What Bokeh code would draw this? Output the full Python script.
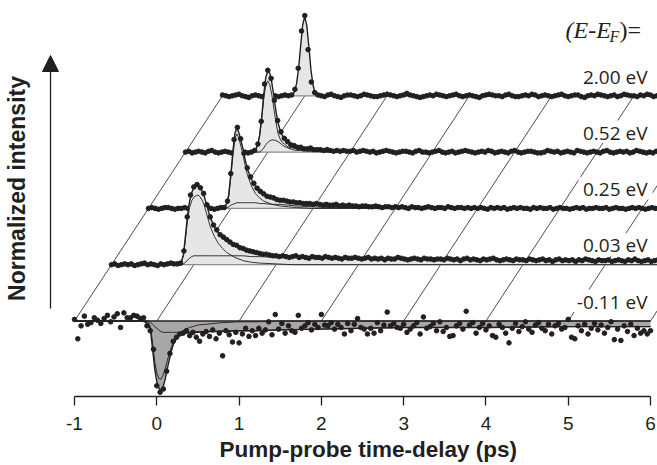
import math
from bokeh.plotting import figure
from bokeh.models import Range1d, FixedTicker, Label, Arrow, NormalHead, Title, GlobalInlineStyleSheet
from bokeh.embed import file_html
from bokeh.resources import INLINE

# ---------------- data ----------------
ENERGY_LABELS = ["-0.11 eV", "0.03 eV", "0.25 eV", "0.52 eV", "2.00 eV"]
TICKS = [-1, 0, 1, 2, 3, 4, 5, 6]
TICK_LABELS = ["-1", "0", "1", "2", "3", "4", "5", "6"]
X_TITLE = "Pump-probe time-delay (ps)"
Y_TITLE = "Normalized intensity"

# measured delays: start and step of the delay stage (ps)
DELAY_START = -1.0
DELAY_STEP = 0.04

# measured points, normalized intensity x 100
DOTS_M011 = [2, -22, -6, 6, -4, -2, 4, 1, -3, 3, 7, -1, 5, 9, -8, 10, 4, 4, 7, 6, 3, 4, -6, -12, -35,
             -80, -88, -84, -62, -40, -25, -20, -16, -15, -12, -18, -14, -20, -25, -16, -13, -19, -11, -22, -15, -43, -12, -17, -26, -14,
             -27, -16, -9, -19, -12, -18, -9, -15, -11, -1, -17, 8, -10, -3, -15, -6, -12, -14, 7, -9, -6, -2, -11, -4, -8,
             8, -5, -6, -2, -10, -4, -8, -16, -3, -12, -4, 3, -8, -10, -16, -9, -15, -2, -12, -5, 11, -6, -3, -8, -9,
             -4, -14, -10, -6, -2, -16, 5, -9, -7, -3, -12, -1, -13, -8, -19, -18, -6, -3, -10, 12, -5, -2, -15, -8, -3,
             -11, -6, -18, -20, -4, -8, -15, -27, -9, -3, -13, -7, -1, -10, -14, -5, -2, -9, -12, -4, -16, -6, -3, -10, -8,
             2, -20, -22, -6, -12, -4, -16, -9, -3, -11, -5, -15, -8, -1, -23, -10, -24, -6, -13, -4, -18, -9, -15, -12, -16,
             -12]
DOTS_003 = [0, 1, -1, 0, 1, 0, 1, -1, 0, 1, 2, 0, 1, 0, -1, 1, 0, 1, 2, 1, 1, 2, 17, 59, 86,
            96, 99, 95, 88, 74, 59, 49, 43, 37, 34, 31, 28, 25, 24, 21, 20, 18, 17, 16, 15, 14, 13, 13, 12, 11,
            11, 10, 11, 10, 9, 10, 11, 9, 10, 9, 8, 10, 9, 9, 8, 10, 9, 8, 9, 8, 7, 9, 8, 8, 9,
            8, 7, 8, 9, 7, 8, 7, 8, 6, 8, 7, 7, 9, 8, 7, 6, 7, 8, 7, 6, 8, 7, 7, 6, 7,
            7, 6, 8, 7, 6, 7, 5, 7, 8, 6, 7, 6, 5, 7, 6, 7, 8, 6, 5, 6, 7, 6, 5, 7, 6,
            6, 5, 7, 6, 5, 6, 7, 5, 6, 4, 6, 7, 5, 6, 5, 6, 4, 6, 5, 7, 6, 5, 4, 6, 5,
            5, 6, 4, 5, 6, 5, 4, 6, 5, 7, 5, 4, 5, 6, 4, 5, 6, 5, 4, 5, 6, 4, 5, 5, 4,
            5]
DOTS_025 = [0, 1, 0, -1, 0, 1, 1, 0, -1, 0, 0, 1, 0, -1, 0, 1, 0, 0, 1, 0, -1, 0, 1, 1, 9,
            43, 85, 100, 86, 68, 50, 39, 31, 25, 21, 18, 15, 14, 13, 11, 10, 10, 9, 8, 8, 7, 7, 6, 6, 6,
            5, 6, 5, 4, 5, 4, 4, 5, 3, 4, 3, 4, 3, 3, 2, 3, 3, 2, 2, 3, 2, 1, 2, 2, 1,
            2, 1, 2, 1, 0, 2, 1, 1, 0, 1, 2, 1, 0, 1, 1, 0, 2, 1, 0, 1, 1, 0, 1, 0, 1,
            0, 1, 0, -1, 1, 0, 1, 0, 1, -1, 0, 1, 0, 1, 0, 0, -1, 1, 0, 1, 0, 0, 1, -1, 0,
            1, 0, 0, -1, 0, 1, 0, 1, -1, 0, 0, 1, 0, 0, 1, -1, 0, 1, 0, 0, -1, 0, 1, 0, 1,
            0, -1, 0, 1, 0, 0, 1, -1, 0, 1, 0, 0, 1, 0, -1, 0, 1, 0, 0, 1, -1, 0, 0, 1, 0,
            0]
DOTS_052 = [0, 1, -1, 0, 1, 0, -1, 1, 2, 0, -1, 0, 1, 0, -1, 0, 2, 1, 0, -1, 0, 2, 10, 38, 84,
            101, 91, 64, 39, 25, 17, 13, 9, 8, 6, 6, 4, 4, 5, 3, 3, 3, 2, 3, 2, 1, 2, 1, 2, 1,
            1, 2, 0, 1, 2, 1, 0, 1, -1, 0, 1, 2, 1, 0, -1, 0, 1, 1, 0, -1, 1, 2, 0, 0, -1,
            0, 1, 2, 0, -1, 0, 1, -1, 0, 1, 2, 1, 0, -1, 0, 1, 0, 2, 1, -1, 0, 1, 0, -1, 1,
            2, 0, -1, 0, 1, 1, 0, -1, -1, 0, 2, 1, 0, 1, -1, 0, 1, 0, -1, 2, 1, 0, -1, 0, 1,
            0, -1, 1, 2, 0, -1, 0, 1, 0, 1, -1, 0, 2, 1, 0, -1, 0, -1, 1, 0, 2, 1, 0, -1, 0,
            1, 0, -1, 0, 2, 1, 0, -1, 1, 0, 0, 1, -1, -2, 0, 1, 2, 0, -1, 0, 1, 0, 1, -1, 0,
            0]
DOTS_200 = [1, 0, -1, 0, 1, 2, 0, -1, -2, 0, 1, 0, -1, 1, 2, 1, 0, -1, 0, 1, 0, 1, 8, 34, 80,
            99, 57, 17, 4, 1, 0, -1, 1, 2, 0, -1, -2, 0, 1, 1, 0, -1, 0, 2, 1, 0, -1, -1, 0, 1,
            2, 1, 0, -1, 0, 1, 3, 1, 0, -1, -2, -1, 0, 1, 0, 2, 1, 0, -1, 0, 1, 2, 0, -1, 0,
            1, 0, -1, -2, 0, 1, 2, 1, 0, 0, -1, 1, 2, 0, -1, -1, 0, 1, 0, 2, 1, -1, 0, 1, 0,
            -1, 0, 1, 2, 0, -1, 0, 1, 1, -1, -2, 0, 1, 0, 2, 1, 0, -1, 0, 1, -1, 0, 2, 1, 0,
            0, -1, 1, 0, 2, 1, -1, 0, 1, 0, -1, -2, 0, 1, 2, 0, -1, 0, 1, 1, 0, -1, 0, 2, 1,
            0, 1, -1, 0, 1, 0, 2, 1, -1, -1, 0, 1, 0, -1, 1, 2, 0, -1, 0, 1, 0, 1, -1, 0, 2,
            1]

# fit curves (normalized intensity x 100) at these delays (ps)
FIT_T = [-1.0, -0.4, -0.3, -0.25, -0.2, -0.175, -0.15, -0.125, -0.1, -0.075, -0.05, -0.025,
         0.0, 0.025, 0.05, 0.075, 0.1, 0.125, 0.15, 0.175, 0.2, 0.25, 0.3, 0.35, 0.4, 0.5,
         0.6, 0.7, 0.8, 1.0, 1.2, 1.5, 2.0, 2.5, 3.0, 4.0, 5.0, 6.0]

TOTAL_M011 = [0, 0, 0, 0, 0, 0, -1, -2, -5, -13, -36, -59, -75, -83, -86, -82, -73, -60, -49, -38, -29,
              -20, -16, -15, -14, -14, -13, -13, -13, -12, -12, -11, -10, -9, -8, -8, -7, -7]
FAST_M011 = [0, 0, 0, 0, 0, 0, 0, 0, -2, -8, -28, -50, -64, -71, -72, -67, -60, -50, -41, -33, -26,
             -18, -13, -10, -8, -5, -4, -3, -2, -1, -1, 0, 0, 0, 0, 0, 0, 0]
SLOW_M011 = [0, 0, 0, 0, 0, 0, 0, 0, 0, -2, -4, -7, -9, -11, -13, -14, -14, -14, -14, -14, -14,
             -14, -14, -14, -14, -13, -13, -13, -12, -12, -12, -11, -10, -9, -8, -8, -7, -7]

TOTAL_003 = [0, 0, 1, 1, 1, 2, 4, 13, 37, 62, 79, 89, 95, 97, 97, 95, 91, 85, 76, 67, 58,
             47, 39, 34, 30, 24, 19, 16, 14, 11, 10, 9, 8, 7, 7, 6, 5, 5]
FAST_003 = [0, 0, 1, 1, 1, 2, 4, 11, 33, 56, 71, 79, 83, 85, 86, 84, 80, 74, 65, 56, 47,
            35, 26, 20, 15, 9, 5, 3, 2, 1, 0, 0, 0, 0, 0, 0, 0, 0]
SLOW_003 = [0, 0, 0, 0, 0, 0, 0, 1, 3, 6, 8, 10, 11, 11, 11, 11, 11, 11, 11, 11, 11,
            11, 11, 11, 11, 11, 11, 10, 10, 9, 9, 8, 8, 7, 7, 6, 5, 5]

TOTAL_025 = [0, 0, 0, 0, 0, 0, 0, 0, 0, 2, 6, 17, 42, 70, 93, 99, 93, 83, 73, 60, 49,
             36, 27, 21, 17, 13, 10, 9, 7, 6, 4, 3, 2, 1, 1, 0, 0, 0]
FAST_025 = [0, 0, 0, 0, 0, 0, 0, 0, 0, 2, 5, 15, 38, 64, 86, 92, 86, 76, 65, 53, 42,
            28, 18, 13, 9, 5, 3, 2, 1, 0, 0, 0, 0, 0, 0, 0, 0, 0]
SLOW_025 = [0, 0, 0, 0, 0, 0, 0, 0, 0, 0, 1, 2, 4, 5, 6, 7, 7, 7, 7, 7, 7,
            7, 7, 6, 6, 5, 5, 4, 3, 2, 1, 1, 0, 0, 0, 0, 0, 0]

TOTAL_052 = [0, 0, 0, 0, 0, 1, 3, 8, 20, 42, 70, 92, 100, 97, 85, 68, 50, 36, 27, 21, 17,
             11, 8, 6, 5, 4, 3, 2, 2, 1, 1, 0, 0, 0, 0, 0, 0, 0]
FAST_052 = [0, 0, 0, 0, 0, 1, 3, 8, 20, 40, 65, 83, 88, 83, 70, 53, 36, 23, 16, 12, 10,
            6, 5, 4, 3, 2, 2, 1, 1, 0, 0, 0, 0, 0, 0, 0, 0, 0]
SLOW_052 = [0, 0, 0, 0, 0, 0, 0, 0, 0, 2, 5, 9, 12, 14, 15, 15, 14, 13, 11, 9, 7,
            5, 3, 2, 2, 1, 1, 0, 0, 0, 0, 0, 0, 0, 0, 0, 0, 0]

TOTAL_200 = [0, 0, 0, 0, 0, 0, 1, 5, 15, 34, 62, 88, 98, 86, 60, 32, 13, 4, 1, 0, 0,
             0, 0, 0, 0, 0, 0, 0, 0, 0, 0, 0, 0, 0, 0, 0, 0, 0]

# ---------------- layout (page pixels of the reference) ----------------
PX_PER_PS = 82.29      # horizontal scale
PX_PER_UNIT = 81.0     # vertical scale (one normalized unit)
T_MINUS1_PX = 74.0     # page x of t = -1 on the axis
BASE_PY = 320.5        # page y of the front (bottom) trace baseline
AXIS_PY = 396.0        # page y of the time axis line
LEVEL_DX_PX = 37.0     # oblique offset between stacked traces
LEVEL_DY_PX = 56.3
LABEL_RAISE_PX = 11.5  # energy label baseline above its trace
TEXT_SHIFT_EM = 0.41   # compensates the renderer's baseline placement
X_TITLE_LEFT_PX = 219
W, H = 657, 465
INK = "#231f20"


def t_at(px):
    return -1.0 + (px - T_MINUS1_PX) / PX_PER_PS


def y_at(py):
    return (BASE_PY - py) / PX_PER_UNIT


def text_y(py, size):
    return y_at(py - TEXT_SHIFT_EM * size)


DX = LEVEL_DX_PX / PX_PER_PS
DY = LEVEL_DY_PX / PX_PER_UNIT

p = figure(width=W, height=H, output_backend="svg", toolbar_location=None,
           x_range=Range1d(t_at(0), t_at(W)),
           y_range=Range1d(y_at(AXIS_PY), y_at(0)),
           y_axis_location=None,
           min_border_left=0, min_border_right=0, min_border_top=0,
           min_border_bottom=H - int(AXIS_PY))
p.stylesheets = [GlobalInlineStyleSheet(css="html, body { overflow: hidden; }")]
p.grid.visible = False
p.outline_line_color = None
p.background_fill_color = "white"
p.border_fill_color = "white"

ax = p.xaxis[0]
ax.ticker = FixedTicker(ticks=TICKS)
ax.major_label_overrides = {t: s for t, s in zip(TICKS, TICK_LABELS)}
ax.bounds = (TICKS[0], TICKS[-1])
ax.axis_line_color = INK
ax.axis_line_width = 1.3
ax.major_tick_line_color = INK
ax.major_tick_line_width = 1.3
ax.major_tick_in = 0
ax.major_tick_out = 9
ax.minor_tick_line_color = None
ax.major_label_standoff = 11
ax.major_label_text_font = "Liberation Sans"
ax.major_label_text_font_size = "19px"
ax.major_label_text_color = INK

# time axis title, placed under the axis span (not centred on the whole frame)
p.add_layout(Title(text=X_TITLE, align="left", offset=X_TITLE_LEFT_PX,
                   standoff=5, text_font="Liberation Sans", text_font_style="bold",
                   text_font_size="22.5px", text_color=INK), "below")

n_levels = len(ENERGY_LABELS)

# slanted guide lines joining equal delays across the stacked traces
p.segment(x0=TICKS, y0=[0] * len(TICKS),
          x1=[t + (n_levels - 1) * DX for t in TICKS], y1=[(n_levels - 1) * DY] * len(TICKS),
          line_color=INK, line_width=0.8)

# white patches behind the energy labels (they interrupt the guide lines)
lab_base = [k * DY + LABEL_RAISE_PX / PX_PER_UNIT for k in range(n_levels)]
p.quad(left=[t_at(572)] + [t_at(578)] * (n_levels - 1), right=[t_at(652)] * n_levels,
       bottom=[b - 2.5 / PX_PER_UNIT for b in lab_base],
       top=[b + 20.0 / PX_PER_UNIT for b in lab_base],
       fill_color="white", line_color=None)

levels = [
    (DOTS_M011, TOTAL_M011, FAST_M011, SLOW_M011),
    (DOTS_003, TOTAL_003, FAST_003, SLOW_003),
    (DOTS_025, TOTAL_025, FAST_025, SLOW_025),
    (DOTS_052, TOTAL_052, FAST_052, SLOW_052),
    (DOTS_200, TOTAL_200, None, None),
]

# back traces first, front trace last
for k in range(n_levels - 1, -1, -1):
    dots, total, fast, slow = levels[k]
    ox, oy = k * DX, k * DY
    fx = [t + ox for t in FIT_T]
    fill = "#a7a7a7" if k == 0 else "#e6e6e6"
    p.varea(x=fx, y1=[oy] * len(fx), y2=[oy + v / 100.0 for v in total], fill_color=fill)
    p.line(x=[TICKS[0] + ox, TICKS[-1] + ox], y=[oy, oy],
           line_color=INK if k == 0 else "#8c8c8c", line_width=1.4 if k == 0 else 1.2)
    for comp in (fast, slow):
        if comp is not None:
            p.line(x=fx, y=[oy + v / 100.0 for v in comp], line_color=INK, line_width=0.9)
    p.line(x=fx, y=[oy + v / 100.0 for v in total], line_color=INK, line_width=1.4)
    n = len(dots)
    dx_ = [DELAY_START + DELAY_STEP * i + ox for i in range(n)]
    p.scatter(x=dx_, y=[oy + v / 100.0 for v in dots], size=4.6, color=INK)

# energy labels on the right
for k, name in enumerate(ENERGY_LABELS):
    p.add_layout(Label(x=t_at(647), y=lab_base[k] + TEXT_SHIFT_EM * 19 / PX_PER_UNIT, text=name,
                       text_align="right", text_baseline="alphabetic",
                       text_font="Open Sans", text_font_size="19px", text_color=INK))

# (E-E_F)= header
p.add_layout(Label(x=t_at(565), y=text_y(39, 24), text="(E-E", text_font="Liberation Serif",
                   text_font_style="italic", text_font_size="24px", text_color=INK,
                   text_baseline="alphabetic"))
p.add_layout(Label(x=t_at(609), y=text_y(43, 16), text="F", text_font="Liberation Serif",
                   text_font_style="italic", text_font_size="16px", text_color=INK,
                   text_baseline="alphabetic"))
p.add_layout(Label(x=t_at(619), y=text_y(39, 24), text=")=", text_font="Liberation Serif",
                   text_font_size="24px", text_color=INK, text_baseline="alphabetic"))

# vertical intensity arrow and its label
p.add_layout(Arrow(end=NormalHead(size=16, fill_color=INK, line_color=INK),
                   x_start=t_at(50), y_start=y_at(308), x_end=t_at(50), y_end=y_at(55),
                   line_color=INK, line_width=1.3))
p.add_layout(Label(x=t_at(26 - TEXT_SHIFT_EM * 23), y=y_at(188), text=Y_TITLE, angle=math.pi / 2,
                   text_align="center", text_baseline="alphabetic",
                   text_font="Liberation Sans", text_font_style="bold",
                   text_font_size="23px", text_color=INK))

open("out.html", "w").write(file_html(p, INLINE))
